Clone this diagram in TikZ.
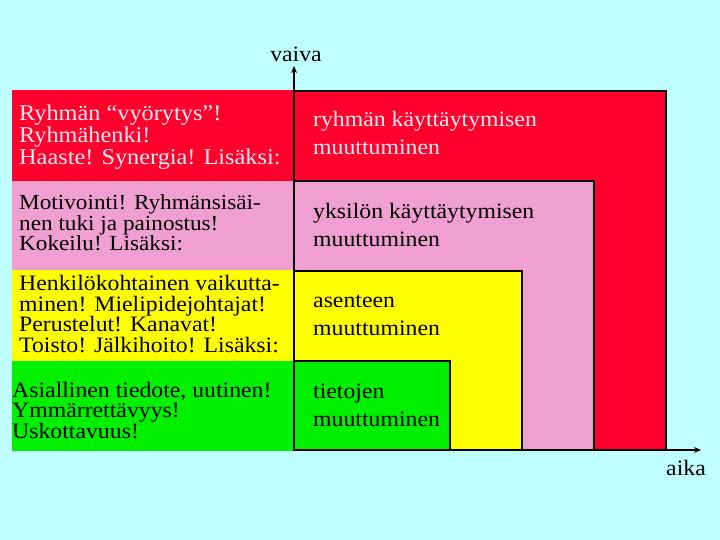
\documentclass[tikz,border=0pt]{standalone}
\usepackage{fontspec}
\setmainfont[FakeStretch=1.08]{Liberation Serif}
\usetikzlibrary{arrows.meta}
\definecolor{bgcyan}{RGB}{192,255,255}
\definecolor{panred}{RGB}{255,0,44}
\definecolor{panpink}{RGB}{240,160,208}
\definecolor{panyellow}{RGB}{255,255,0}
\definecolor{pangreen}{RGB}{0,240,0}
\definecolor{redtext}{RGB}{255,235,242}
\begin{document}
\begin{tikzpicture}[x=1pt,y=-1pt,
  lbl/.style={anchor=base west, inner sep=0pt, align=left},
  lred/.style={lbl, text=redtext, font=\fontsize{22.5}{22}\selectfont},
  lpink/.style={lbl, font=\fontsize{21.5}{17.5}\selectfont},
  lyel/.style={lbl, font=\fontsize{22}{20.5}\selectfont},
  rtxt/.style={lbl, font=\fontsize{22}{28}\selectfont},
  axlbl/.style={anchor=base, inner sep=0pt, font=\fontsize{22}{26}\selectfont},
  box/.style={draw=black, line width=1.5pt},
  axis/.style={line width=1.6pt, -{Stealth[length=7pt,width=6pt]}}]
\useasboundingbox (0,0) rectangle (720,540);
\fill[bgcyan] (0,0) rectangle (720,540);
% left panels
\fill[panred] (12,90) rectangle (294,181);
\fill[panpink] (12,181) rectangle (294,270);
\fill[panyellow] (12,270) rectangle (294,361);
\fill[pangreen] (12,361) rectangle (294,451);
% right nested boxes
\draw[box, fill=panred] (294,91) rectangle (666,450);
\draw[box, fill=panpink] (294,181) rectangle (594,450);
\draw[box, fill=panyellow] (294,271) rectangle (522,450);
\draw[box, fill=pangreen] (294,361) rectangle (450,450);
% axes
\coordinate (o) at (294,450);
\coordinate (ytip) at (294,66);
\coordinate (xtip) at (701,450);
\draw[axis] (o) -- (ytip);
\draw[axis] (o) -- (xtip);
\node[axlbl] (vaiva) at (296,62) {vaiva};
\node[axlbl] (aika) at (686,475) {aika};
% left texts (anchor = baseline of last line)
\node[lred] (t1) at (19,165) {Ryhmän “vyörytys”!\\Ryhmähenki!\\Haaste! Synergia! Lisäksi:};
\node[lpink] (t2) at (19,251) {Motivointi! Ryhmänsisäi-\\nen tuki ja painostus!\\Kokeilu! Lisäksi:};
\node[lyel] (t3) at (19,352) {Henkilökohtainen vaikutta-\\minen! Mielipidejohtajat!\\Perustelut! Kanavat!\\Toisto! Jälkihoito! Lisäksi:};
\node[lyel] (t4) at (12,438) {Asiallinen tiedote, uutinen!\\Ymmärrettävyys!\\Uskottavuus!};
% right texts
\node[rtxt, text=redtext] (r1) at (313,155) {ryhmän käyttäytymisen\\muuttuminen};
\node[rtxt] (r2) at (313,246) {yksilön käyttäytymisen\\muuttuminen};
\node[rtxt] (r3) at (313,335) {asenteen\\muuttuminen};
\node[rtxt] (r4) at (313,426) {tietojen\\muuttuminen};
\end{tikzpicture}
\end{document}
